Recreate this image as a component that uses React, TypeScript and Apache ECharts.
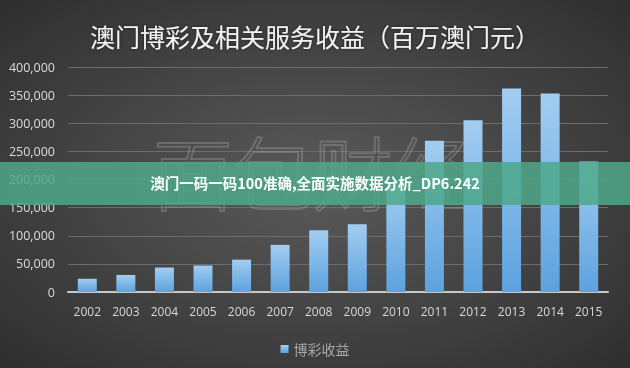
import React, { useEffect, useRef } from "react";
import * as echarts from "echarts";

const years = ["2002","2003","2004","2005","2006","2007","2008","2009","2010","2011","2012","2013","2014","2015"];
const gamingRevenue = [23500, 30300, 43500, 47100, 57500, 83800, 109800, 120400, 189600, 269100, 305200, 361900, 352700, 231800];
const titleText = "澳门博彩及相关服务收益（百万澳门元）";
const legendName = "博彩收益";
const bannerText = "澳门一码一码100准确,全面实施数据分析_DP6.242";
const watermarkText = "面包财经";

export default function App() {
  const ref = useRef<HTMLDivElement>(null);
  useEffect(() => {
    if (!ref.current) return;
    const chart = echarts.init(ref.current, undefined, { renderer: "svg" });
    chart.setOption({
      animation: false,
      backgroundColor: {
        type: "radial", x: 0.5, y: 0.5, r: 0.75,
        colorStops: [
          { offset: 0, color: "#5a5a5a" },
          { offset: 1, color: "#2c2c2c" },
        ],
      },
      title: {
        text: titleText,
        left: "center",
        top: 18,
        textStyle: {
          color: "#f2f2f2",
          fontSize: 25,
          fontWeight: "normal",
          fontFamily: "Noto Sans CJK SC",
          textShadowColor: "rgba(0,0,0,0.6)",
          textShadowBlur: 3,
        },
      },
      legend: {
        data: [legendName],
        left: "center",
        top: 337,
        icon: "rect",
        itemWidth: 8,
        itemHeight: 8,
        itemGap: 4,
        textStyle: { color: "#a8a8a8", fontSize: 14, fontFamily: "Noto Sans CJK SC" },
      },
      grid: { left: 68, right: 22, top: 67, bottom: 76 },
      xAxis: {
        type: "category",
        data: years,
        axisLine: { lineStyle: { color: "#c8c8c8", width: 2 } },
        axisTick: { show: false },
        axisLabel: { color: "#d8d8d8", fontSize: 12, margin: 13, fontFamily: "Open Sans" },
      },
      yAxis: {
        type: "value",
        min: 0,
        max: 400000,
        interval: 50000,
        axisLine: { show: false },
        axisTick: { show: false },
        splitLine: { lineStyle: { color: "#6c6c6c", width: 1 } },
        axisLabel: {
          color: "#dcdcdc",
          fontSize: 12.5,
          margin: 13,
          fontFamily: "Open Sans",
          formatter: (v: number) => v.toLocaleString("en-US"),
        },
      },
      series: [
        {
          name: legendName,
          type: "bar",
          data: gamingRevenue,
          barWidth: 19,
          z: 3,
          itemStyle: {
            color: {
              type: "linear", x: 0, y: 0, x2: 0, y2: 1,
              colorStops: [
                { offset: 0, color: "#a2cdf1" },
                { offset: 1, color: "#5ca2de" },
              ],
            },
          },
        },
      ],
      graphic: [
        {
          type: "text",
          left: 152,
          top: 128,
          z: 1,
          silent: true,
          style: {
            text: watermarkText,
            fontSize: 80,
            fontFamily: "Noto Sans CJK SC",
            fontWeight: 200,
            fill: "rgba(0,0,0,0)",
            stroke: "rgba(190,190,190,0.28)",
            lineWidth: 2,
          },
        },
        {
          type: "rect",
          left: 0,
          top: 162,
          z: 100,
          silent: true,
          shape: { width: 630, height: 43 },
          style: { fill: "rgba(78,168,138,0.85)" },
        },
        {
          type: "text",
          left: "center",
          top: 175,
          z: 101,
          silent: true,
          style: {
            text: bannerText,
            fontSize: 14.5,
            fontWeight: "bold",
            fontFamily: "Noto Sans CJK SC",
            fill: "#ffffff",
          },
        },
      ],
    });
    return () => chart.dispose();
  }, []);
  return <div ref={ref} style={{ position: "fixed", left: 0, top: 0, width: 630, height: 368 }} />;
}
